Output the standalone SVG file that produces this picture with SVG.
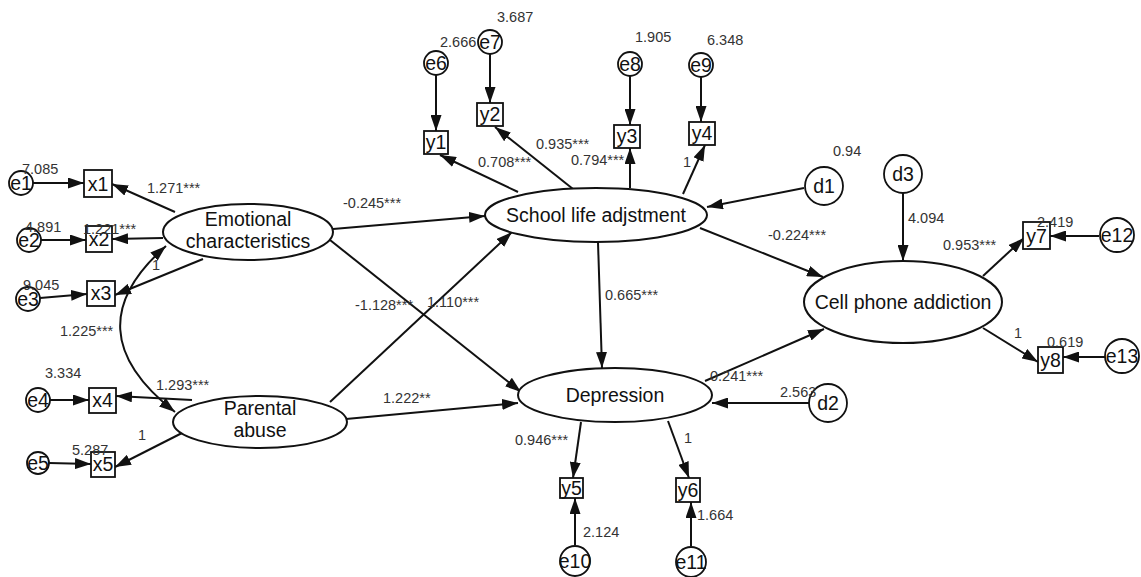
<svg xmlns="http://www.w3.org/2000/svg" width="1141" height="577" viewBox="0 0 1141 577">
<style>
.n{fill:#fff;stroke:#111;stroke-width:2}
.b{fill:#fff;stroke:#111;stroke-width:1.8}
.t{font-family:"Liberation Sans",Arial,sans-serif;font-size:19.5px;fill:#111;text-anchor:middle}
.l{font-family:"Liberation Sans",Arial,sans-serif;font-size:14.5px;fill:#333}
.c line,.c path{stroke:#111;stroke-width:2;fill:none;marker-end:url(#ah)}
</style>
<defs>
<marker id="ah" viewBox="0 0 16 11" refX="16" refY="5.5" markerWidth="16" markerHeight="11" markerUnits="userSpaceOnUse" orient="auto-start-reverse">
<path d="M0,0 L16,5.5 L0,11 z" fill="#111"/>
</marker>
</defs>
<rect width="1141" height="577" fill="#fff"/>
<g id="connectors" class="c">
<line x1="33" y1="183" x2="84" y2="183"/>
<line x1="41" y1="240" x2="86" y2="240"/>
<line x1="40" y1="298" x2="87" y2="294"/>
<line x1="50" y1="400" x2="89" y2="400"/>
<line x1="49" y1="463" x2="91" y2="464"/>
<line x1="175" y1="212" x2="112" y2="184"/>
<line x1="163" y1="238" x2="112" y2="239"/>
<line x1="203" y1="259" x2="115" y2="295"/>
<line x1="192" y1="400" x2="116" y2="396"/>
<line x1="182" y1="433" x2="115" y2="467"/>
<path d="M166,246 Q70,330 175,412" style="marker-start:url(#ah)"/>
<line x1="333" y1="229" x2="485" y2="216"/>
<line x1="330" y1="240" x2="521" y2="392"/>
<line x1="330" y1="402" x2="512" y2="232"/>
<line x1="346" y1="419" x2="518" y2="403"/>
<line x1="598" y1="242" x2="602" y2="368"/>
<line x1="518" y1="192" x2="440" y2="155"/>
<line x1="573" y1="189" x2="495" y2="127"/>
<line x1="630" y1="188" x2="630" y2="148"/>
<line x1="683" y1="194" x2="705" y2="145"/>
<line x1="436" y1="75" x2="436" y2="131"/>
<line x1="490" y1="54" x2="490" y2="103"/>
<line x1="630" y1="76" x2="630" y2="125"/>
<line x1="701" y1="77" x2="701" y2="122"/>
<line x1="804" y1="188" x2="707" y2="207"/>
<line x1="700" y1="228" x2="823" y2="277"/>
<line x1="705" y1="381" x2="824" y2="329"/>
<line x1="809" y1="403" x2="712" y2="403"/>
<line x1="903" y1="193" x2="903" y2="261"/>
<line x1="983" y1="276" x2="1024" y2="238"/>
<line x1="983" y1="328" x2="1038" y2="362"/>
<line x1="1099" y1="236" x2="1050" y2="236"/>
<line x1="1105" y1="357" x2="1063" y2="357"/>
<line x1="581" y1="422" x2="573" y2="478"/>
<line x1="668" y1="421" x2="689" y2="478"/>
<line x1="575" y1="545" x2="575" y2="498"/>
<line x1="691" y1="546" x2="691" y2="502"/>
</g>
<g id="emotional"><ellipse class="n" cx="248" cy="232" rx="85" ry="28"/><text class="t" x="248" y="226">Emotional</text><text class="t" x="248" y="248">characteristics</text></g>
<g id="parental"><ellipse class="n" cx="260" cy="422" rx="87" ry="26"/><text class="t" x="260" y="415">Parental</text><text class="t" x="260" y="437">abuse</text></g>
<g id="school"><ellipse class="n" cx="596" cy="215" rx="111" ry="27"/><text class="t" x="596" y="222">School life adjstment</text></g>
<g id="depression"><ellipse class="n" cx="615" cy="395" rx="97" ry="27"/><text class="t" x="615" y="402">Depression</text></g>
<g id="cell"><ellipse class="n" cx="903" cy="302" rx="99" ry="41"/><text class="t" x="903" y="309">Cell phone addiction</text></g>
<g id="x1"><rect class="b" x="84" y="170" width="28" height="27"/><text class="t" x="98" y="191">x1</text></g>
<g id="x2"><rect class="b" x="86" y="226" width="26" height="26"/><text class="t" x="99" y="246">x2</text></g>
<g id="x3"><rect class="b" x="87" y="281" width="28" height="25"/><text class="t" x="101" y="300">x3</text></g>
<g id="x4"><rect class="b" x="89" y="388" width="27" height="25"/><text class="t" x="102.5" y="407">x4</text></g>
<g id="x5"><rect class="b" x="91" y="452" width="24" height="25"/><text class="t" x="103" y="471">x5</text></g>
<g id="y1"><rect class="b" x="424" y="131" width="24" height="23"/><text class="t" x="436" y="149">y1</text></g>
<g id="y2"><rect class="b" x="477" y="103" width="26" height="23"/><text class="t" x="490" y="121">y2</text></g>
<g id="y3"><rect class="b" x="614" y="125" width="26" height="23"/><text class="t" x="627" y="143">y3</text></g>
<g id="y4"><rect class="b" x="689" y="122" width="26" height="23"/><text class="t" x="702" y="140">y4</text></g>
<g id="y5"><rect class="b" x="560" y="478" width="23" height="20"/><text class="t" x="571.5" y="495">y5</text></g>
<g id="y6"><rect class="b" x="676" y="478" width="24" height="24"/><text class="t" x="688" y="497">y6</text></g>
<g id="y7"><rect class="b" x="1023" y="222" width="27" height="27"/><text class="t" x="1036.5" y="243">y7</text></g>
<g id="y8"><rect class="b" x="1038" y="347" width="25" height="26"/><text class="t" x="1050.5" y="367">y8</text></g>
<g id="e1"><circle class="b" cx="21" cy="183" r="12"/><text class="t" x="21" y="190">e1</text></g>
<g id="e2"><circle class="b" cx="29" cy="240" r="12"/><text class="t" x="29" y="247">e2</text></g>
<g id="e3"><circle class="b" cx="28" cy="299" r="12"/><text class="t" x="28" y="306">e3</text></g>
<g id="e4"><circle class="b" cx="38" cy="400" r="12"/><text class="t" x="38" y="407">e4</text></g>
<g id="e5"><circle class="b" cx="38" cy="463" r="11"/><text class="t" x="38" y="470">e5</text></g>
<g id="e6"><circle class="b" cx="436" cy="63" r="12"/><text class="t" x="436" y="70">e6</text></g>
<g id="e7"><circle class="b" cx="490" cy="42" r="12"/><text class="t" x="490" y="49">e7</text></g>
<g id="e8"><circle class="b" cx="630" cy="64" r="12"/><text class="t" x="630" y="71">e8</text></g>
<g id="e9"><circle class="b" cx="701" cy="65" r="12"/><text class="t" x="701" y="72">e9</text></g>
<g id="e10"><circle class="b" cx="575" cy="561" r="15"/><text class="t" x="575" y="568">e10</text></g>
<g id="e11"><circle class="b" cx="691" cy="562" r="15"/><text class="t" x="691" y="569">e11</text></g>
<g id="e12"><circle class="b" cx="1117" cy="235" r="17"/><text class="t" x="1117" y="242">e12</text></g>
<g id="e13"><circle class="b" cx="1122" cy="356" r="17"/><text class="t" x="1122" y="363">e13</text></g>
<g id="d1"><circle class="b" cx="824" cy="186" r="19"/><text class="t" x="824" y="193">d1</text></g>
<g id="d2"><circle class="b" cx="828" cy="403" r="19"/><text class="t" x="828" y="410">d2</text></g>
<g id="d3"><circle class="b" cx="903" cy="174" r="19"/><text class="t" x="903" y="181">d3</text></g>
<g id="labels">
<text class="l" x="22" y="174">7.085</text>
<text class="l" x="147" y="193">1.271***</text>
<text class="l" x="25" y="232">4.891</text>
<text class="l" x="83" y="234">1.221***</text>
<text class="l" x="152" y="270">1</text>
<text class="l" x="23" y="290">9.045</text>
<text class="l" x="60" y="336">1.225***</text>
<text class="l" x="45" y="378">3.334</text>
<text class="l" x="156" y="390">1.293***</text>
<text class="l" x="138" y="440">1</text>
<text class="l" x="72" y="455">5.287</text>
<text class="l" x="343" y="208">-0.245***</text>
<text class="l" x="355" y="310">-1.128***</text>
<text class="l" x="427" y="307">1.110***</text>
<text class="l" x="383" y="403">1.222**</text>
<text class="l" x="605" y="300">0.665***</text>
<text class="l" x="515" y="445">0.946***</text>
<text class="l" x="684" y="443">1</text>
<text class="l" x="583" y="537">2.124</text>
<text class="l" x="697" y="520">1.664</text>
<text class="l" x="497" y="22">3.687</text>
<text class="l" x="440" y="47">2.666</text>
<text class="l" x="635" y="42">1.905</text>
<text class="l" x="707" y="45">6.348</text>
<text class="l" x="536" y="149">0.935***</text>
<text class="l" x="478" y="167">0.708***</text>
<text class="l" x="571" y="165">0.794***</text>
<text class="l" x="683" y="167">1</text>
<text class="l" x="833" y="156">0.94</text>
<text class="l" x="908" y="223">4.094</text>
<text class="l" x="768" y="240">-0.224***</text>
<text class="l" x="943" y="250">0.953***</text>
<text class="l" x="1037" y="227">2.419</text>
<text class="l" x="1014" y="338">1</text>
<text class="l" x="1047" y="347">0.619</text>
<text class="l" x="780" y="397">2.563</text>
<text class="l" x="710" y="381">0.241***</text>
</g>
</svg>
